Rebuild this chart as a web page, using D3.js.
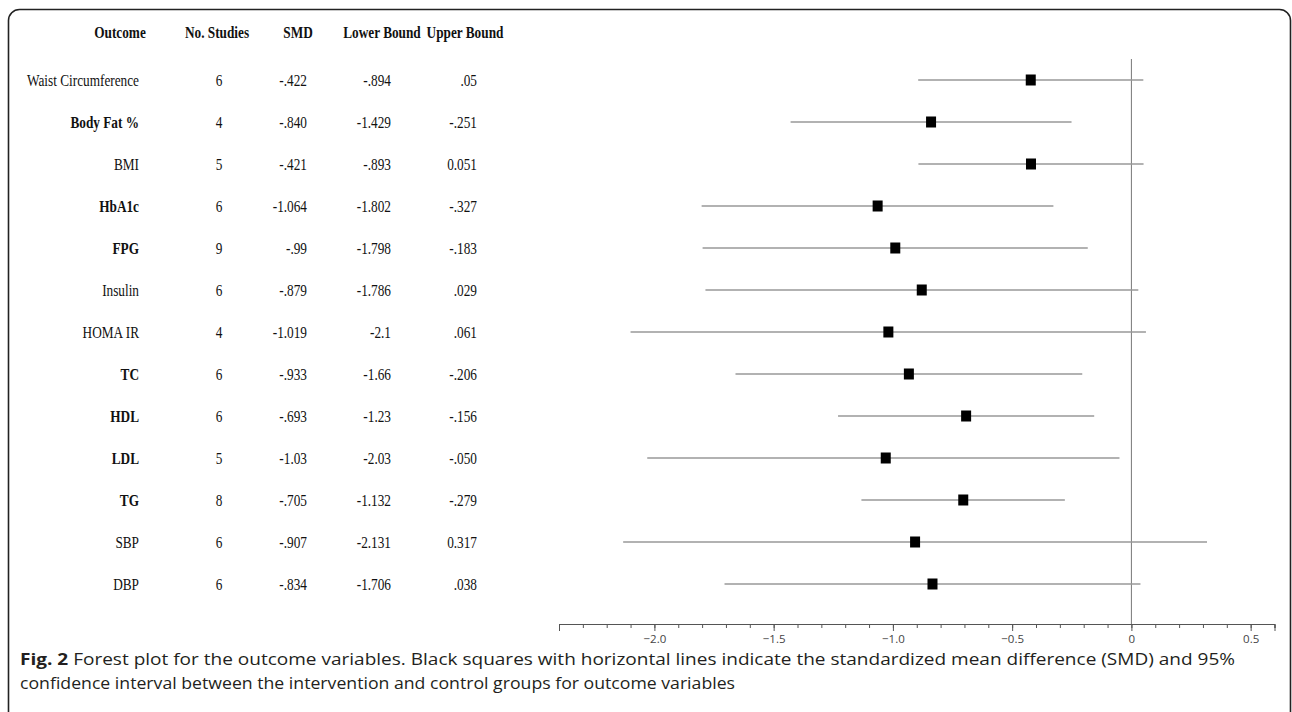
<!DOCTYPE html>
<html>
<head>
<meta charset="utf-8">
<script src="https://cdn.jsdelivr.net/npm/d3@7"></script>
<style>
  body { margin: 0; background: #fff; }
  svg { display: block; }
</style>
</head>
<body>
<script>
// table data
const outcomes = ["Waist Circumference", "Body Fat %", "BMI", "HbA1c", "FPG", "Insulin",
  "HOMA IR", "TC", "HDL", "LDL", "TG", "SBP", "DBP"];
const boldOutcomes = ["Body Fat %", "HbA1c", "FPG", "TC", "HDL", "LDL", "TG"];
const studies = ["6", "4", "5", "6", "9", "6", "4", "6", "6", "5", "8", "6", "6"];
const smd = ["-.422", "-.840", "-.421", "-1.064", "-.99", "-.879", "-1.019", "-.933",
  "-.693", "-1.03", "-.705", "-.907", "-.834"];
const lower = ["-.894", "-1.429", "-.893", "-1.802", "-1.798", "-1.786", "-2.1", "-1.66",
  "-1.23", "-2.03", "-1.132", "-2.131", "-1.706"];
const upper = [".05", "-.251", "0.051", "-.327", "-.183", ".029", ".061", "-.206",
  "-.156", "-.050", "-.279", "0.317", ".038"];
const headers = ["Outcome", "No. Studies", "SMD", "Lower Bound", "Upper Bound"];
const majorTicks = [-2.0, -1.5, -1.0, -0.5, 0, 0.5];
const tickLabels = ["\u22122.0", "\u22121.5", "\u22121.0", "\u22120.5", "0", "0.5"];

window.onload = function() {
  const w = 1292;
  const h = 712;

  let svg = d3.select("body")
            .append("svg")
            .attr("width", w)
            .attr("height", h);

  // rounded frame round the figure
  svg.append("rect")
     .attr("x", 8.5)
     .attr("y", 9.5)
     .attr("width", 1282)
     .attr("height", 800)
     .attr("rx", 11)
     .attr("fill", "none")
     .attr("stroke", "#222")
     .attr("stroke-width", 1.6);

  let rows = outcomes.map(function(o, i) {
    return {
      outcome: o,
      n: studies[i],
      smdText: smd[i], lowText: lower[i], upText: upper[i],
      smd: +smd[i], low: +lower[i], up: +upper[i],
      bold: boldOutcomes.indexOf(o) >= 0
    };
  });

  // scales
  let yScale = d3.scalePoint()
            .domain(outcomes)
            .range([80, 584]);
  let xScale = d3.scaleLinear()
            .domain([-2.4, 0.6])
            .range([559, 1274.5]);

  // table, serif text squeezed a little like the original
  const squeeze = 0.83;
  const sx = 1 / squeeze;
  let table = svg.append("g")
                 .attr("transform", "scale(" + squeeze + ",1)")
                 .style("font-family", "'Liberation Serif', 'Times New Roman', serif")
                 .style("font-size", "16px")
                 .attr("fill", "#111");
  const headerX = [120, 217, 298, 382, 465];
  table.selectAll("text.header")
       .data(headers)
       .enter()
       .append("text")
       .attr("class", "header")
       .attr("x", function(d, i) { return headerX[i] * sx; })
       .attr("y", 32)
       .attr("dy", "0.35em")
       .attr("text-anchor", "middle")
       .style("font-weight", "bold")
       .text(function(d) { return d; });

  let cols = [
    {key: "outcome", x: 139, anchor: "end"},
    {key: "n", x: 219, anchor: "middle"},
    {key: "smdText", x: 307, anchor: "end"},
    {key: "lowText", x: 391, anchor: "end"},
    {key: "upText", x: 477, anchor: "end"}
  ];
  cols.forEach(function(c) {
    table.selectAll("text.col-" + c.key)
         .data(rows)
         .enter()
         .append("text")
         .attr("class", "col-" + c.key)
         .attr("x", c.x * sx)
         .attr("y", function(d) { return yScale(d.outcome); })
         .attr("dy", "0.35em")
         .attr("text-anchor", c.anchor)
         .style("font-weight", function(d) {
           return (c.key == "outcome" && d.bold) ? "bold" : "normal";
         })
         .text(function(d) { return d[c.key]; });
  });

  // zero line
  svg.append("line")
     .attr("x1", xScale(0))
     .attr("x2", xScale(0))
     .attr("y1", 59)
     .attr("y2", 624)
     .attr("stroke", "#777")
     .attr("stroke-width", 1);

  // confidence intervals
  svg.selectAll("line.ci")
     .data(rows)
     .enter()
     .append("line")
     .attr("class", "ci")
     .attr("x1", function(d) { return xScale(d.low); })
     .attr("x2", function(d) { return xScale(d.up); })
     .attr("y1", function(d) { return yScale(d.outcome); })
     .attr("y2", function(d) { return yScale(d.outcome); })
     .attr("stroke", "#999")
     .attr("stroke-width", 1.3);

  // squares for the SMD
  svg.selectAll("rect.smd")
     .data(rows)
     .enter()
     .append("rect")
     .attr("class", "smd")
     .attr("x", function(d) { return xScale(d.smd) - 5; })
     .attr("y", function(d) { return yScale(d.outcome) - 5.5; })
     .attr("width", 10)
     .attr("height", 11)
     .attr("fill", "#000");

  // x axis, minor ticks every 0.1
  let axisY = 624;
  let minor = d3.range(-24, 7).map(function(v) { return v / 10; });
  let xAxisMinor = d3.axisBottom(xScale)
            .tickValues(minor)
            .tickSize(4)
            .tickFormat("");
  let xAxis = d3.axisBottom(xScale)
            .tickValues(majorTicks)
            .tickSize(7)
            .tickPadding(4)
            .tickFormat(function(d, i) { return tickLabels[i]; });

  let gMinor = svg.append("g")
     .attr("transform", "translate(0," + axisY + ")")
     .call(xAxisMinor);
  let gAxis = svg.append("g")
     .attr("transform", "translate(0," + axisY + ")")
     .call(xAxis);
  [gMinor, gAxis].forEach(function(g) {
    g.select(".domain").attr("stroke", "#555").attr("stroke-width", 1);
    g.selectAll(".tick line").attr("stroke", "#555");
  });
  gAxis.selectAll(".tick text")
       .style("font-family", "'Open Sans', sans-serif")
       .style("font-size", "11.5px")
       .attr("fill", "#444");

  // caption
  let cap = svg.append("g")
               .style("font-family", "'Open Sans', 'Noto Sans', sans-serif")
               .style("font-size", "16.5px")
               .attr("fill", "#231f20");
  let line1 = cap.append("text")
                 .attr("x", 20)
                 .attr("y", 665)
                 .attr("textLength", 1215)
                 .attr("lengthAdjust", "spacingAndGlyphs");
  line1.append("tspan").style("font-weight", "bold").text("Fig. 2");
  line1.append("tspan").text(" Forest plot for the outcome variables. Black squares with horizontal lines indicate the standardized mean difference (SMD) and 95%");
  cap.append("text")
     .attr("x", 20)
     .attr("y", 689)
     .attr("textLength", 715)
     .attr("lengthAdjust", "spacingAndGlyphs")
     .text("confidence interval between the intervention and control groups for outcome variables");
}
</script>
</body>
</html>
